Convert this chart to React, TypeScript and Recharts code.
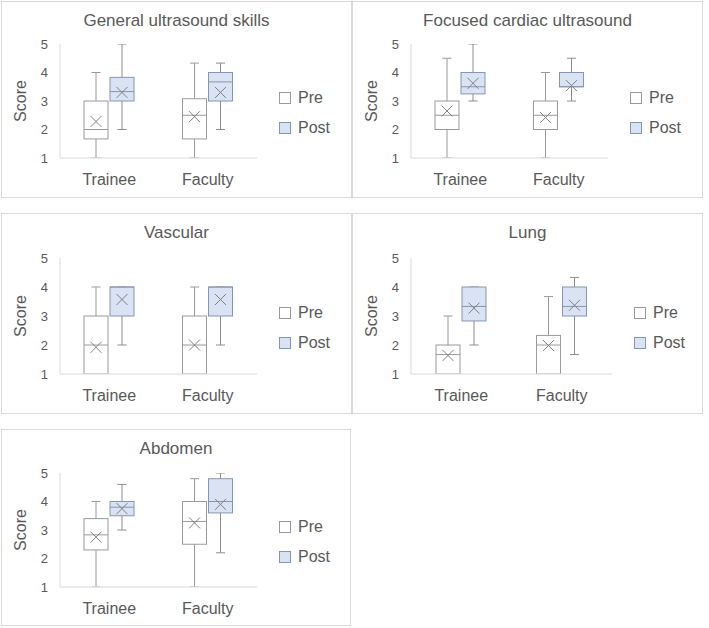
import { ComposedChart, Bar, XAxis, YAxis } from 'recharts';

const categories = ['Trainee', 'Faculty'];
const scoreTicks = [1, 2, 3, 4, 5];

// per category (Trainee, Faculty): [min, q1, median, q3, max, mean]
const generalPre = [[1, 1.67, 2, 3, 4, 2.28], [1, 1.67, 2.5, 3.08, 4.33, 2.45]];
const generalPost = [[2, 3, 3.33, 3.83, 5, 3.3], [2, 3, 3.67, 4, 4.33, 3.3]];
const cardiacPre = [[1, 2, 2.5, 3, 4.5, 2.65], [1, 2, 2.5, 3, 4, 2.42]];
const cardiacPost = [[3, 3.25, 3.5, 4, 5, 3.62], [3, 3.5, 3.5, 4, 4.5, 3.54]];
const vascularPre = [[1, 1, 2, 3, 4, 1.92], [1, 1, 2, 3, 4, 2.0]];
const vascularPost = [[2, 3, 4, 4, 4, 3.57], [2, 3, 4, 4, 4, 3.57]];
const lungPre = [[1, 1, 1.67, 2, 3, 1.64], [1, 1, 2, 2.33, 3.67, 1.98]];
const lungPost = [[2, 2.83, 3.33, 4, 4, 3.27], [1.67, 3, 3.33, 4, 4.33, 3.37]];
const abdomenPre = [[1, 2.3, 2.83, 3.4, 4, 2.75], [1, 2.5, 3.3, 4, 4.8, 3.25]];
const abdomenPost = [[3, 3.5, 3.8, 4, 4.6, 3.75], [2.2, 3.6, 4, 4.8, 5, 3.9]];

const FONT = '"Liberation Sans", Arial, sans-serif';
const TEXT = '#595959';
const GRID = '#d9d9d9';

const styles: Record<string, { fill: string; stroke: string; whisker: string }> = {
  pre: { fill: '#ffffff', stroke: '#9a9a9a', whisker: '#9a9a9a' },
  post: { fill: '#dae3f3', stroke: '#8497b0', whisker: '#8c8c8c' },
};

function toStats(v: number[]) {
  return { min: v[0], q1: v[1], median: v[2], q3: v[3], max: v[4], mean: v[5] };
}

function buildRows(pre: number[][], post: number[][]) {
  return categories.map((cat, i) => ({ cat, pre: toStats(pre[i]), post: toStats(post[i]) }));
}

function BoxShape(props: any) {
  const { x, y, width, height, payload, seriesKey } = props;
  const s = payload[seriesKey];
  const st = styles[seriesKey];
  // y/height span min..max as placed by the value axis
  const toY = (v: number) => y + (height * (s.max - v)) / (s.max - s.min);
  const cx = x + width / 2;
  const cap = 4.5;
  const m = 5.5;
  const my = toY(s.mean);
  return (
    <g>
      <line x1={cx} x2={cx} y1={toY(s.max)} y2={toY(s.q3)} stroke={st.whisker} />
      <line x1={cx} x2={cx} y1={toY(s.q1)} y2={toY(s.min)} stroke={st.whisker} />
      <line x1={cx - cap} x2={cx + cap} y1={toY(s.max)} y2={toY(s.max)} stroke={st.whisker} />
      <line x1={cx - cap} x2={cx + cap} y1={toY(s.min)} y2={toY(s.min)} stroke={st.whisker} />
      <rect x={x} y={toY(s.q3)} width={width} height={toY(s.q1) - toY(s.q3)} fill={st.fill} stroke={st.stroke} />
      <line x1={x} x2={x + width} y1={toY(s.median)} y2={toY(s.median)} stroke={st.stroke} />
      <path d={`M${cx - m},${my - m}L${cx + m},${my + m}M${cx - m},${my + m}L${cx + m},${my - m}`} stroke="#7f7f7f" fill="none" />
    </g>
  );
}

interface PanelProps {
  title: string;
  pre: number[][];
  post: number[][];
  left: number;
  top: number;
  width: number;
  height: number;
  plotTop: number;
  plotBottom: number;
  plotRight: number;
}

function Panel({ title, pre, post, left, top, width, height, plotTop, plotBottom, plotRight }: PanelProps) {
  const rows = buildRows(pre, post);
  const axisH = 30;
  const mid = (plotTop + plotBottom) / 2;
  return (
    <div style={{ position: 'absolute', left, top, width, height, boxSizing: 'border-box', border: `1px solid ${GRID}` }}>
      <div style={{ position: 'absolute', left: -1, top: -1, width, height }}>
        <ComposedChart
          width={width}
          height={height}
          data={rows}
          margin={{ top: plotTop, right: width - plotRight, bottom: height - plotBottom - axisH, left: 0 }}
          barSize={24}
          barGap={2}
        >
          <XAxis
            dataKey="cat"
            tickLine={false}
            tickSize={0}
            tickMargin={16}
            height={axisH}
            axisLine={{ stroke: GRID }}
            tick={{ fill: TEXT, fontSize: 16, fontFamily: FONT }}
          />
          <YAxis
            type="number"
            domain={[1, 5]}
            ticks={scoreTicks}
            allowDataOverflow
            width={59}
            tickLine={false}
            tickSize={0}
            tickMargin={12}
            axisLine={{ stroke: GRID }}
            tick={{ fill: TEXT, fontSize: 13, fontFamily: FONT }}
            label={{ value: 'Score', angle: -90, position: 'center', dx: -10, fill: TEXT, fontSize: 16, fontFamily: FONT }}
          />
          <Bar
            dataKey={(d: any) => [d.pre.min, d.pre.max]}
            isAnimationActive={false}
            shape={(p: any) => <BoxShape {...p} seriesKey="pre" />}
          />
          <Bar
            dataKey={(d: any) => [d.post.min, d.post.max]}
            isAnimationActive={false}
            shape={(p: any) => <BoxShape {...p} seriesKey="post" />}
          />
        </ComposedChart>
        <div
          style={{
            position: 'absolute', left: 0, top: 10, width, textAlign: 'center',
            fontSize: 17, lineHeight: '20px', color: TEXT, fontFamily: FONT,
          }}
        >
          {title}
        </div>
        {[
          { name: 'Pre', key: 'pre', cy: mid - 3 },
          { name: 'Post', key: 'post', cy: mid + 27 },
        ].map((it) => (
          <div
            key={it.key}
            style={{
              position: 'absolute', left: plotRight + 22, top: it.cy - 10, height: 20,
              display: 'flex', alignItems: 'center', fontFamily: FONT, fontSize: 16, color: TEXT,
            }}
          >
            <span
              style={{
                display: 'inline-block', width: 12, height: 12, boxSizing: 'border-box',
                background: styles[it.key].fill, border: `1px solid ${styles[it.key].stroke}`, marginRight: 7,
              }}
            />
            {it.name}
          </div>
        ))}
      </div>
    </div>
  );
}

export default function App() {
  return (
    <div style={{ position: 'absolute', left: 0, top: 0, width: 709, height: 628, background: '#fff', fontFamily: FONT }}>
      <Panel title="General ultrasound skills" pre={generalPre} post={generalPost}
        left={1} top={1} width={351} height={197} plotTop={43} plotBottom={157} plotRight={256} />
      <Panel title="Focused cardiac ultrasound" pre={cardiacPre} post={cardiacPost}
        left={352} top={1} width={351} height={197} plotTop={43} plotBottom={157} plotRight={256} />
      <Panel title="Vascular" pre={vascularPre} post={vascularPost}
        left={1} top={213} width={351} height={201} plotTop={45} plotBottom={161} plotRight={256} />
      <Panel title="Lung" pre={lungPre} post={lungPost}
        left={352} top={213} width={351} height={201} plotTop={45} plotBottom={161} plotRight={260} />
      <Panel title="Abdomen" pre={abdomenPre} post={abdomenPost}
        left={1} top={429} width={350} height={197} plotTop={44} plotBottom={158} plotRight={256} />
    </div>
  );
}
